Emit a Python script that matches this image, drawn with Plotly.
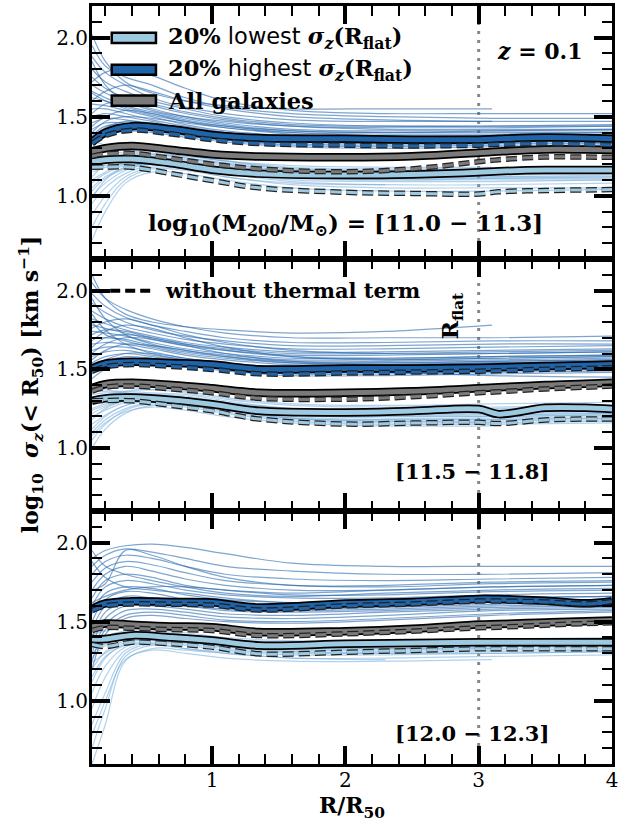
import plotly.graph_objects as go
from plotly.subplots import make_subplots

# ---------------- data ----------------
X_MED = [0.1, 0.2, 0.4, 0.7, 1.0, 1.35, 2.0, 2.5, 3.0, 3.15, 3.5, 3.8, 4.0]

P1_HIGH = [1.34, 1.40, 1.44, 1.42, 1.385, 1.365, 1.36, 1.355, 1.355, 1.36, 1.368, 1.365, 1.36]
P1_HIGH_NT = [1.33, 1.38, 1.415, 1.39, 1.355, 1.33, 1.32, 1.315, 1.32, 1.325, 1.33, 1.327, 1.32]
P1_ALL = [1.28, 1.30, 1.315, 1.29, 1.263, 1.248, 1.243, 1.25, 1.272, 1.28, 1.293, 1.292, 1.29]
P1_ALL_NT = [1.25, 1.265, 1.268, 1.235, 1.20, 1.17, 1.152, 1.17, 1.215, 1.228, 1.245, 1.245, 1.243]
P1_LOW = [1.215, 1.228, 1.232, 1.205, 1.165, 1.14, 1.131, 1.135, 1.148, 1.155, 1.163, 1.163, 1.163]
P1_LOW_NT = [1.18, 1.182, 1.18, 1.14, 1.096, 1.05, 1.022, 1.015, 1.011, 1.025, 1.033, 1.037, 1.039]

P2_HIGH = [1.505, 1.535, 1.547, 1.54, 1.53, 1.50, 1.505, 1.505, 1.509, 1.512, 1.52, 1.526, 1.53]
P2_HIGH_NT = [1.488, 1.515, 1.53, 1.518, 1.499, 1.471, 1.476, 1.482, 1.488, 1.49, 1.50, 1.505, 1.509]
P2_ALL = [1.38, 1.405, 1.414, 1.40, 1.379, 1.351, 1.35, 1.36, 1.379, 1.385, 1.40, 1.408, 1.414]
P2_ALL_NT = [1.36, 1.385, 1.394, 1.375, 1.351, 1.316, 1.31, 1.325, 1.351, 1.357, 1.375, 1.386, 1.394]
P2_LOW = [1.30, 1.315, 1.32, 1.305, 1.278, 1.236, 1.226, 1.235, 1.247, 1.215, 1.255, 1.255, 1.247]
P2_LOW_NT = [1.30, 1.302, 1.30, 1.27, 1.236, 1.184, 1.152, 1.158, 1.163, 1.155, 1.178, 1.184, 1.184]

P3_HIGH = [1.58, 1.615, 1.629, 1.625, 1.622, 1.59, 1.615, 1.625, 1.644, 1.643, 1.632, 1.616, 1.63]
P3_HIGH_NT = [1.57, 1.60, 1.612, 1.61, 1.605, 1.574, 1.60, 1.612, 1.63, 1.63, 1.625, 1.612, 1.628]
P3_ALL = [1.465, 1.488, 1.48, 1.47, 1.465, 1.435, 1.44, 1.455, 1.482, 1.485, 1.495, 1.502, 1.507]
P3_ALL_NT = [1.444, 1.463, 1.458, 1.45, 1.444, 1.413, 1.423, 1.44, 1.461, 1.465, 1.478, 1.488, 1.493]
P3_LOW = [1.39, 1.39, 1.413, 1.40, 1.381, 1.35, 1.36, 1.365, 1.37, 1.37, 1.37, 1.37, 1.37]
P3_LOW_NT = [1.356, 1.343, 1.37, 1.36, 1.339, 1.297, 1.307, 1.318, 1.329, 1.329, 1.329, 1.329, 1.329]

X_IND = [0.1, 0.2, 0.35, 0.55, 0.8, 1.1, 1.6, 2.3, 3.1, 4.0]
N = None

P1_IND_HIGH = [
    [2.02, 1.85, 1.72, 1.65, 1.6, 1.57, 1.55, 1.55, 1.55, N],
    [1.95, 1.82, 1.75, 1.7, 1.62, 1.56, 1.52, 1.5, 1.49, 1.49],
    [1.88, 1.78, 1.7, 1.62, 1.56, 1.52, 1.48, 1.47, 1.47, 1.47],
    [1.8, 1.72, 1.66, 1.6, 1.55, 1.5, 1.46, 1.44, 1.44, 1.45],
    [1.75, 1.68, 1.62, 1.57, 1.52, 1.48, 1.44, 1.42, 1.42, 1.42],
    [1.7, 1.65, 1.6, 1.55, 1.5, 1.46, 1.42, 1.41, 1.41, 1.41],
    [1.66, 1.62, 1.57, 1.53, 1.49, 1.45, 1.41, 1.4, 1.4, 1.4],
    [1.62, 1.6, 1.56, 1.52, 1.47, 1.43, 1.4, 1.39, 1.39, 1.4],
    [1.58, 1.57, 1.54, 1.5, 1.45, 1.41, 1.38, 1.37, 1.38, 1.38],
    [1.55, 1.55, 1.52, 1.48, 1.44, 1.4, 1.37, 1.36, 1.36, 1.37],
    [1.5, 1.52, 1.5, 1.47, 1.42, 1.39, 1.36, 1.35, 1.35, 1.36],
    [1.46, 1.49, 1.48, 1.45, 1.41, 1.38, 1.35, 1.34, 1.35, 1.35],
    [1.42, 1.46, 1.46, 1.43, 1.4, 1.37, 1.34, 1.33, 1.34, 1.34],
    [1.38, 1.44, 1.45, 1.42, 1.39, 1.36, 1.33, 1.32, 1.33, 1.33],
    [1.34, 1.41, 1.43, 1.41, 1.38, 1.35, 1.32, 1.31, 1.32, 1.32],
    [1.3, 1.38, 1.41, 1.4, 1.37, 1.34, 1.31, 1.3, 1.31, 1.31],
    [1.72, 1.78, 1.8, 1.76, 1.68, 1.6, 1.54, 1.52, 1.52, 1.52],
    [1.6, 1.66, 1.7, 1.66, 1.6, 1.55, 1.5, 1.48, 1.47, N],
    [1.52, 1.58, 1.6, 1.58, 1.53, 1.49, 1.45, 1.44, 1.44, 1.44],
    [1.44, 1.5, 1.54, 1.52, 1.48, 1.44, 1.4, 1.38, 1.38, 1.39],
    [1.4, 1.47, 1.5, 1.49, 1.46, 1.43, 1.39, 1.37, 1.37, 1.38],
    [1.65, 1.6, 1.55, 1.51, 1.47, 1.44, 1.41, 1.4, 1.41, 1.42],
    [1.85, 1.7, 1.6, 1.54, 1.5, 1.47, 1.44, 1.43, 1.43, 1.44],
    [1.36, 1.43, 1.47, 1.46, 1.43, 1.4, 1.37, 1.36, 1.36, 1.37],
]
P1_IND_LOW = [
    [0.72, 0.9, 1.08, 1.15, 1.14, 1.1, 1.05, 1.03, 1.03, 1.04],
    [0.8, 0.95, 1.1, 1.17, 1.16, 1.12, 1.07, 1.05, 1.05, 1.05],
    [0.88, 1.0, 1.12, 1.18, 1.17, 1.14, 1.09, 1.07, 1.07, 1.08],
    [0.95, 1.05, 1.14, 1.19, 1.18, 1.15, 1.1, 1.09, 1.09, 1.1],
    [1.0, 1.08, 1.16, 1.2, 1.19, 1.16, 1.12, 1.1, 1.11, 1.12],
    [1.05, 1.12, 1.18, 1.21, 1.2, 1.17, 1.13, 1.12, 1.12, 1.13],
    [1.1, 1.15, 1.2, 1.22, 1.21, 1.18, 1.14, 1.13, 1.13, 1.14],
    [1.15, 1.18, 1.21, 1.23, 1.22, 1.19, 1.15, 1.14, 1.14, 1.15],
    [1.2, 1.21, 1.23, 1.24, 1.23, 1.2, 1.16, 1.15, 1.15, 1.16],
    [1.25, 1.25, 1.25, 1.25, 1.24, 1.21, 1.17, 1.16, 1.16, 1.17],
    [1.3, 1.28, 1.27, 1.26, 1.25, 1.22, 1.18, 1.17, 1.17, 1.18],
    [1.35, 1.32, 1.29, 1.27, 1.25, 1.22, 1.19, 1.18, 1.18, N],
    [1.12, 1.2, 1.26, 1.28, 1.26, 1.22, 1.17, 1.16, 1.17, N],
    [0.98, 1.1, 1.18, 1.2, 1.17, 1.12, 1.08, 1.07, N, N],
    [1.08, 1.14, 1.19, 1.2, 1.18, 1.15, 1.11, 1.1, 1.1, 1.1],
    [1.18, 1.19, 1.2, 1.21, 1.2, 1.18, 1.14, 1.12, 1.12, 1.12],
    [1.22, 1.24, 1.26, 1.26, 1.24, 1.2, 1.16, 1.15, 1.15, 1.15],
    [1.03, 1.11, 1.17, 1.2, 1.19, 1.16, 1.12, 1.11, 1.11, 1.11],
]
P2_IND_HIGH = [
    [2.1, 1.95, 1.85, 1.8, 1.77, 1.75, 1.73, 1.74, 1.78, N],
    [2.05, 1.95, 1.88, 1.82, 1.77, 1.73, 1.7, 1.7, 1.7, 1.71],
    [1.98, 1.9, 1.83, 1.78, 1.74, 1.7, 1.67, 1.67, 1.68, 1.68],
    [1.92, 1.86, 1.8, 1.75, 1.71, 1.68, 1.65, 1.65, 1.66, 1.66],
    [1.87, 1.82, 1.77, 1.73, 1.69, 1.66, 1.63, 1.63, 1.64, 1.65],
    [1.82, 1.79, 1.75, 1.71, 1.67, 1.64, 1.61, 1.61, 1.62, 1.63],
    [1.78, 1.76, 1.73, 1.69, 1.65, 1.62, 1.59, 1.59, 1.6, 1.61],
    [1.74, 1.73, 1.71, 1.67, 1.63, 1.6, 1.57, 1.57, 1.58, 1.59],
    [1.7, 1.7, 1.69, 1.65, 1.61, 1.58, 1.55, 1.55, 1.56, 1.57],
    [1.66, 1.67, 1.66, 1.63, 1.59, 1.56, 1.53, 1.53, 1.54, 1.55],
    [1.62, 1.64, 1.64, 1.61, 1.57, 1.54, 1.51, 1.51, 1.52, 1.53],
    [1.58, 1.61, 1.62, 1.59, 1.56, 1.53, 1.5, 1.5, 1.51, 1.52],
    [1.54, 1.58, 1.6, 1.58, 1.55, 1.52, 1.49, 1.49, 1.5, 1.51],
    [1.5, 1.55, 1.58, 1.57, 1.54, 1.51, 1.48, 1.48, 1.49, 1.5],
    [1.47, 1.52, 1.56, 1.56, 1.53, 1.5, 1.47, 1.47, 1.48, 1.49],
    [1.44, 1.5, 1.54, 1.55, 1.52, 1.49, 1.46, 1.46, 1.47, 1.48],
    [1.76, 1.8, 1.82, 1.78, 1.72, 1.67, 1.62, 1.6, 1.6, 1.61],
    [1.68, 1.74, 1.78, 1.76, 1.7, 1.64, 1.58, 1.56, 1.57, 1.58],
    [1.6, 1.66, 1.7, 1.69, 1.65, 1.6, 1.55, 1.54, 1.55, 1.56],
    [1.52, 1.56, 1.6, 1.6, 1.57, 1.54, 1.5, 1.48, 1.46, 1.45],
    [1.85, 1.75, 1.66, 1.6, 1.56, 1.53, 1.52, 1.52, 1.53, 1.54],
    [1.95, 1.82, 1.72, 1.66, 1.62, 1.59, 1.56, 1.56, 1.57, 1.58],
    [1.72, 1.75, 1.74, 1.7, 1.66, 1.63, 1.6, 1.6, 1.61, 1.62],
    [1.64, 1.7, 1.72, 1.7, 1.66, 1.62, 1.58, 1.57, 1.58, 1.59],
    [1.56, 1.62, 1.66, 1.65, 1.62, 1.58, 1.54, 1.53, 1.54, 1.55],
    [1.8, 1.72, 1.68, 1.64, 1.6, 1.57, 1.54, 1.54, 1.55, 1.56],
]
P2_IND_LOW = [
    [1.0, 1.12, 1.22, 1.27, 1.26, 1.22, 1.17, 1.15, 1.15, 1.16],
    [1.05, 1.15, 1.24, 1.28, 1.27, 1.23, 1.18, 1.16, 1.16, 1.17],
    [1.1, 1.18, 1.25, 1.29, 1.28, 1.24, 1.19, 1.17, 1.17, 1.18],
    [1.15, 1.21, 1.27, 1.3, 1.29, 1.25, 1.2, 1.18, 1.18, 1.19],
    [1.2, 1.24, 1.29, 1.31, 1.3, 1.26, 1.21, 1.2, 1.2, 1.21],
    [1.24, 1.27, 1.3, 1.32, 1.31, 1.27, 1.22, 1.21, 1.21, 1.22],
    [1.28, 1.3, 1.32, 1.33, 1.32, 1.28, 1.23, 1.22, 1.22, 1.23],
    [1.32, 1.33, 1.34, 1.34, 1.33, 1.29, 1.24, 1.23, 1.23, 1.24],
    [1.36, 1.36, 1.36, 1.35, 1.34, 1.3, 1.25, 1.24, 1.25, 1.26],
    [1.4, 1.39, 1.38, 1.37, 1.35, 1.31, 1.27, 1.26, 1.26, 1.27],
    [1.3, 1.33, 1.36, 1.37, 1.36, 1.32, 1.28, 1.27, 1.28, 1.29],
    [1.18, 1.25, 1.3, 1.32, 1.3, 1.25, 1.19, 1.17, 1.16, N],
    [1.08, 1.16, 1.23, 1.26, 1.24, 1.2, 1.16, 1.14, 1.14, N],
    [1.25, 1.28, 1.31, 1.33, 1.32, 1.29, 1.25, 1.24, 1.24, 1.25],
    [1.34, 1.35, 1.35, 1.34, 1.32, 1.28, 1.23, 1.21, 1.21, 1.22],
    [1.12, 1.2, 1.27, 1.3, 1.29, 1.26, 1.21, 1.19, 1.19, 1.2],
    [1.22, 1.26, 1.3, 1.31, 1.29, 1.24, 1.19, 1.18, 1.18, 1.19],
    [1.38, 1.37, 1.35, 1.33, 1.31, 1.27, 1.22, 1.2, 1.2, 1.21],
]
P3_IND_HIGH = [
    [1.9, 1.95, 1.98, 1.99, 1.97, 1.93, 1.87, 1.85, 1.85, 1.85],
    [1.85, 1.92, 1.96, 1.94, 1.9, 1.85, 1.82, 1.8, 1.8, 1.81],
    [1.8, 1.88, 1.92, 1.9, 1.85, 1.8, 1.77, 1.76, 1.77, 1.78],
    [1.75, 1.84, 1.88, 1.86, 1.81, 1.76, 1.73, 1.72, 1.74, 1.75],
    [1.7, 1.8, 1.85, 1.82, 1.77, 1.73, 1.7, 1.7, 1.72, 1.73],
    [1.65, 1.76, 1.8, 1.78, 1.73, 1.7, 1.67, 1.67, 1.69, 1.7],
    [1.6, 1.72, 1.76, 1.74, 1.7, 1.67, 1.65, 1.65, 1.67, 1.68],
    [1.55, 1.68, 1.72, 1.71, 1.67, 1.64, 1.62, 1.63, 1.65, 1.66],
    [1.5, 1.64, 1.69, 1.68, 1.64, 1.61, 1.6, 1.61, 1.63, 1.64],
    [1.45, 1.6, 1.66, 1.65, 1.62, 1.59, 1.58, 1.59, 1.61, 1.62],
    [1.4, 1.56, 1.62, 1.62, 1.6, 1.57, 1.56, 1.57, 1.59, 1.6],
    [1.35, 1.52, 1.6, 1.6, 1.58, 1.55, 1.54, 1.56, 1.58, 1.59],
    [1.3, 1.48, 1.57, 1.58, 1.56, 1.53, 1.52, 1.54, 1.57, 1.58],
    [1.25, 1.45, 1.54, 1.56, 1.54, 1.51, 1.5, 1.52, 1.55, 1.57],
    [1.2, 1.42, 1.52, 1.54, 1.52, 1.5, 1.49, 1.51, 1.54, 1.56],
    [1.95, 1.85, 1.8, 1.76, 1.72, 1.68, 1.66, 1.68, 1.7, 1.71],
    [1.88, 1.78, 1.72, 1.7, 1.68, 1.65, 1.62, 1.63, 1.65, 1.66],
    [1.62, 1.66, 1.7, 1.72, 1.72, 1.7, 1.68, 1.7, 1.72, 1.73],
    [1.58, 1.62, 1.64, 1.63, 1.6, 1.58, 1.57, 1.58, 1.6, 1.61],
    [1.7, 1.74, 1.95, 1.92, 1.85, 1.78, 1.73, 1.73, 1.75, 1.76],
]
P3_IND_LOW = [
    [0.6, 0.85, 1.25, 1.33, 1.32, 1.3, 1.27, 1.27, 1.28, 1.29],
    [0.7, 0.95, 1.28, 1.35, 1.33, 1.31, 1.29, 1.29, 1.3, 1.31],
    [0.85, 1.05, 1.3, 1.36, 1.35, 1.32, 1.3, 1.3, 1.31, 1.32],
    [0.95, 1.15, 1.32, 1.37, 1.36, 1.33, 1.31, 1.31, 1.32, 1.33],
    [1.05, 1.22, 1.34, 1.38, 1.37, 1.34, 1.32, 1.32, 1.33, 1.34],
    [1.12, 1.27, 1.36, 1.39, 1.38, 1.35, 1.33, 1.33, 1.34, 1.35],
    [1.2, 1.31, 1.38, 1.4, 1.39, 1.36, 1.34, 1.34, 1.35, 1.36],
    [1.27, 1.35, 1.4, 1.41, 1.4, 1.37, 1.35, 1.35, 1.36, 1.37],
    [1.33, 1.38, 1.42, 1.42, 1.41, 1.38, 1.36, 1.36, 1.37, 1.38],
    [1.38, 1.41, 1.44, 1.44, 1.42, 1.39, 1.37, 1.37, 1.38, 1.39],
    [1.42, 1.44, 1.46, 1.45, 1.43, 1.4, 1.38, 1.38, 1.39, 1.4],
    [1.3, 1.36, 1.43, 1.43, 1.41, 1.37, 1.34, 1.33, 1.33, N],
    [1.15, 1.28, 1.35, 1.36, 1.33, 1.3, 1.27, 1.26, N, N],
    [1.24, 1.3, 1.37, 1.39, 1.37, 1.34, 1.31, 1.3, 1.3, 1.31],
    [1.36, 1.4, 1.42, 1.41, 1.38, 1.35, 1.33, 1.33, 1.34, 1.35],
    [0.78, 1.0, 1.26, 1.32, 1.3, 1.27, 1.25, 1.25, 1.26, N],
]

PANELS = [
    dict(ind_high=P1_IND_HIGH, ind_low=P1_IND_LOW,
         high=P1_HIGH, high_nt=P1_HIGH_NT, all=P1_ALL, all_nt=P1_ALL_NT, low=P1_LOW, low_nt=P1_LOW_NT),
    dict(ind_high=P2_IND_HIGH, ind_low=P2_IND_LOW,
         high=P2_HIGH, high_nt=P2_HIGH_NT, all=P2_ALL, all_nt=P2_ALL_NT, low=P2_LOW, low_nt=P2_LOW_NT),
    dict(ind_high=P3_IND_HIGH, ind_low=P3_IND_LOW,
         high=P3_HIGH, high_nt=P3_HIGH_NT, all=P3_ALL, all_nt=P3_ALL_NT, low=P3_LOW, low_nt=P3_LOW_NT),
]
MASS_LABELS = ["<b>log<sub>10</sub>(M<sub>200</sub>/M<sub>⊙</sub>) = [11.0 − 11.3]</b>",
               "<b>[11.5 − 11.8]</b>", "<b>[12.0 − 12.3]</b>"]
Y_TICKS = [1.0, 1.5, 2.0]
Y_TICK_TEXT = ["1.0", "1.5", "2.0"]
X_TICKS = [1, 2, 3, 4]
X_TICK_TEXT = ["1", "2", "3", "4"]
X_RANGE = [0.1, 4.0]
Y_RANGE = [0.6, 2.2]

# ---------------- styles ----------------
C_HIGH = "#1f63a8"
C_ALL = "#7a7a7a"
C_LOW = "#9ecae1"
C_IND_HIGH = "rgba(40,105,175,0.6)"
C_IND_LOW = "rgba(115,172,218,0.55)"
FONT = "DejaVu Serif"
DASH = "11px,5px"

fig = make_subplots(rows=3, cols=1, shared_xaxes=True, vertical_spacing=0)

for r, p in enumerate(PANELS, start=1):
    for ys in p["ind_low"]:
        fig.add_trace(go.Scatter(x=X_IND, y=ys, mode="lines", line=dict(color=C_IND_LOW, width=1.2, shape="spline"),
                                 hoverinfo="skip", showlegend=False), row=r, col=1)
    for ys in p["ind_high"]:
        fig.add_trace(go.Scatter(x=X_IND, y=ys, mode="lines", line=dict(color=C_IND_HIGH, width=1.2, shape="spline"),
                                 hoverinfo="skip", showlegend=False), row=r, col=1)
    for key, col in [("low", C_LOW), ("all", C_ALL), ("high", C_HIGH)]:
        fig.add_trace(go.Scatter(x=X_MED, y=p[key], mode="lines", line=dict(color="black", width=8.5, shape="spline"),
                                 hoverinfo="skip", showlegend=False), row=r, col=1)
        fig.add_trace(go.Scatter(x=X_MED, y=p[key], mode="lines", line=dict(color=col, width=5, shape="spline"),
                                 hoverinfo="skip", showlegend=False), row=r, col=1)
        fig.add_trace(go.Scatter(x=X_MED, y=p[key + "_nt"], mode="lines",
                                 line=dict(color="#222222", width=5.5, dash=DASH, shape="spline"),
                                 hoverinfo="skip", showlegend=False), row=r, col=1)
        fig.add_trace(go.Scatter(x=X_MED, y=p[key + "_nt"], mode="lines",
                                 line=dict(color=col, width=3, dash=DASH, shape="spline"),
                                 hoverinfo="skip", showlegend=False), row=r, col=1)

tfont = dict(family=FONT, size=20, color="black")
common = dict(ticks="inside", ticklen=18, tickwidth=3.5, tickcolor="black",
              showline=True, linewidth=3, linecolor="black", mirror="allticks",
              showgrid=False, zeroline=False, tickfont=tfont)
for r in range(1, 4):
    fig.update_xaxes(range=X_RANGE, tickvals=X_TICKS, ticktext=X_TICK_TEXT,
                     minor=dict(ticks="inside", ticklen=10, tickwidth=2, tickcolor="black",
                                tickmode="linear", tick0=0, dtick=0.2),
                     showticklabels=(r == 3), ticklabelstandoff=-4, row=r, col=1, **common)
    fig.update_yaxes(range=Y_RANGE, tickvals=Y_TICKS, ticktext=Y_TICK_TEXT,
                     minor=dict(ticks="inside", ticklen=10, tickwidth=2, tickcolor="black",
                                tickmode="linear", tick0=0, dtick=0.1),
                     ticklabelstandoff=-3, row=r, col=1, **common)

# vertical dotted line at R_flat
for r in range(1, 4):
    sfx = "" if r == 1 else str(r)
    fig.add_shape(type="line", xref="x" + sfx, yref="y" + sfx + " domain", x0=3, x1=3, y0=0, y1=1,
                  line=dict(color="#888888", width=3, dash="3px,6px"), layer="below")

# custom legend (panel 1)
leg = [(C_LOW, "<b>20%</b> <span style='font-family:DejaVu Sans'>lowest</span> <b><i>σ<sub>z</sub></i>(R<sub>flat</sub>)</b>", 0.874),
       (C_HIGH, "<b>20%</b> <span style='font-family:DejaVu Sans'>highest</span> <b><i>σ<sub>z</sub></i>(R<sub>flat</sub>)</b>", 0.748),
       (C_ALL, "<b>All galaxies</b>", 0.626)]
for col, txt, yy in leg:
    fig.add_shape(type="rect", xref="x domain", yref="y domain", x0=0.038, x1=0.123, y0=yy - 0.02, y1=yy + 0.02,
                  line=dict(color="black", width=2.5), fillcolor=col)
    fig.add_annotation(xref="x domain", yref="y domain", x=0.143, y=yy, text=txt, showarrow=False,
                       xanchor="left", yanchor="middle", font=dict(family=FONT, size=22.5, color="black"))

fig.add_annotation(xref="x domain", yref="y domain", x=0.862, y=0.823, text="<b><i>z</i> = 0.1</b>",
                   showarrow=False, xanchor="center", yanchor="middle", font=dict(family=FONT, size=22, color="black"))

# without thermal term (panel 2)
fig.add_shape(type="line", xref="x2 domain", yref="y2 domain", x0=0.035, x1=0.113, y0=0.874, y1=0.874,
              line=dict(color="black", width=4, dash="10px,5px"))
fig.add_annotation(xref="x2 domain", yref="y2 domain", x=0.137, y=0.874, text="<b>without thermal term</b>",
                   showarrow=False, xanchor="left", yanchor="middle", font=dict(family=FONT, size=21, color="black"))
fig.add_annotation(xref="x2 domain", yref="y2 domain", x=0.694, y=0.776, text="<b>R<sub>flat</sub></b>",
                   textangle=-90, showarrow=False, xanchor="center", yanchor="middle",
                   font=dict(family=FONT, size=22, color="black"))

# mass labels
fig.add_annotation(xref="x domain", yref="y domain", x=0.487, y=0.138, text=MASS_LABELS[0],
                   showarrow=False, xanchor="center", yanchor="middle", font=dict(family=FONT, size=23, color="black"))
fig.add_annotation(xref="x2 domain", yref="y2 domain", x=0.731, y=0.157, text=MASS_LABELS[1],
                   showarrow=False, xanchor="center", yanchor="middle", font=dict(family=FONT, size=21, color="black"))
fig.add_annotation(xref="x3 domain", yref="y3 domain", x=0.731, y=0.122, text=MASS_LABELS[2],
                   showarrow=False, xanchor="center", yanchor="middle", font=dict(family=FONT, size=21, color="black"))

# axis titles
fig.add_annotation(xref="paper", yref="paper", x=-0.117, y=0.50, textangle=-90, showarrow=False,
                   xanchor="center", yanchor="middle",
                   text="<b>log<sub>10</sub>  <i>σ<sub>z</sub></i>(< R<sub>50</sub>) [km s<sup>−1</sup>]</b>",
                   font=dict(family=FONT, size=22, color="black"))
fig.add_annotation(xref="paper", yref="paper", x=0.5, y=-0.057, showarrow=False,
                   xanchor="center", yanchor="middle",
                   text="<b>R/R<sub>50</sub></b>", font=dict(family=FONT, size=22, color="black"))

fig.update_layout(width=632, height=832, margin=dict(l=92, r=20, t=3, b=68),
                  plot_bgcolor="white", paper_bgcolor="white", showlegend=False)
fig.update_yaxes(domain=[0.6662, 1.0], row=1, col=1)
fig.update_yaxes(domain=[0.3338, 0.6662], row=2, col=1)
fig.update_yaxes(domain=[0.0, 0.3338], row=3, col=1)

fig.write_html("out.html")
